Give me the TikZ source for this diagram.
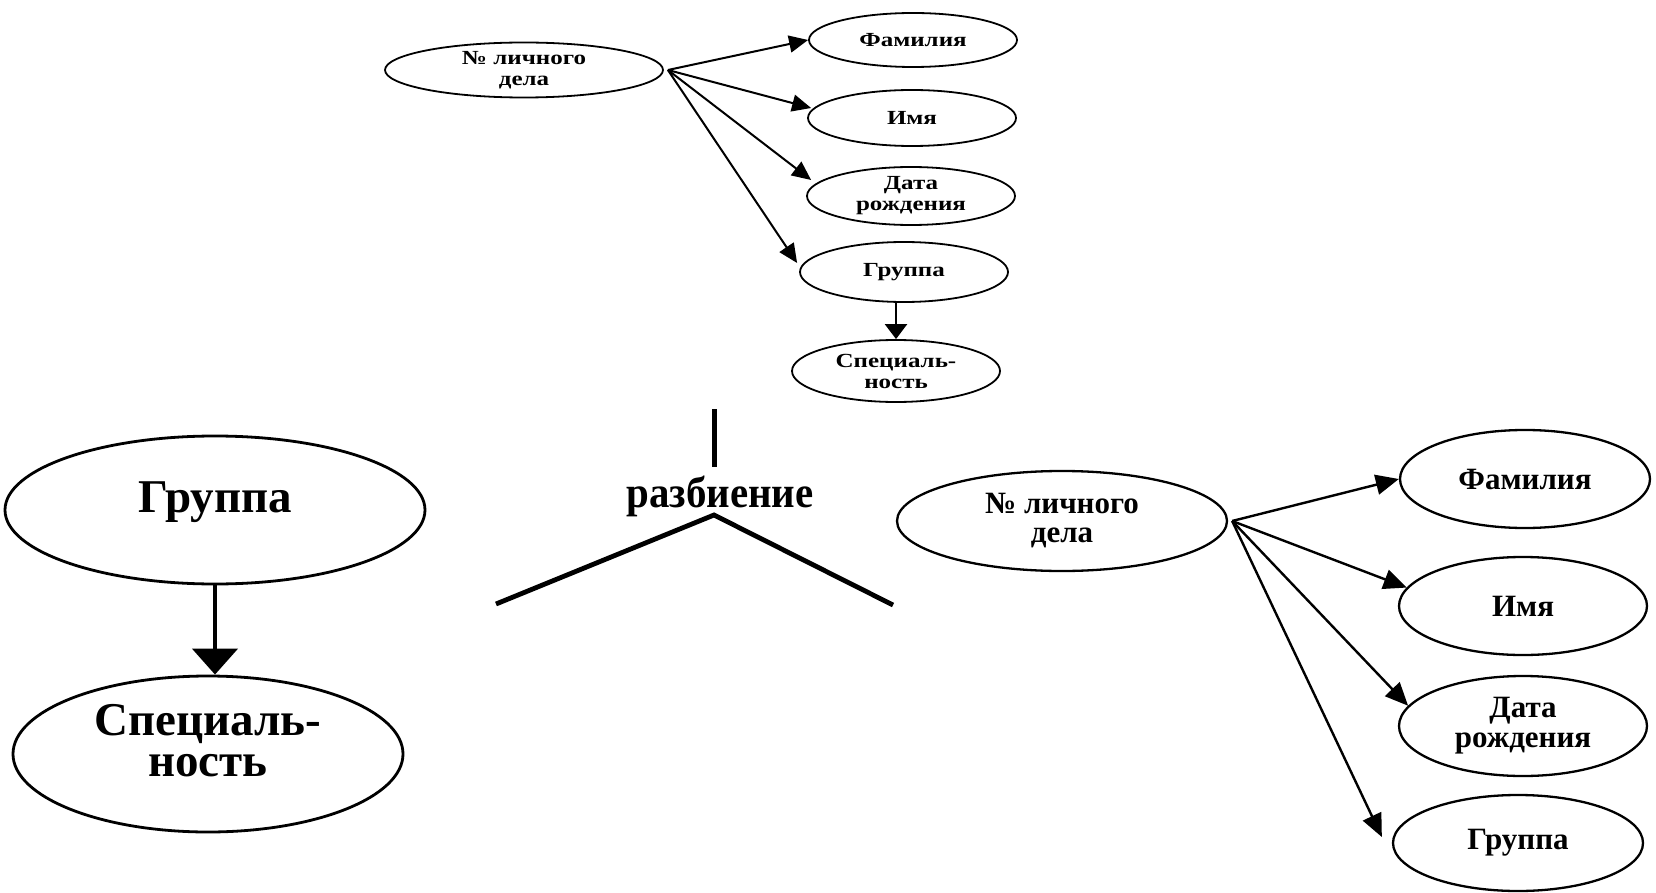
\documentclass[tikz,border=0pt]{standalone}
\usepackage{graphicx}
\usepackage{fontspec}
\setmainfont{Liberation Serif}
\usetikzlibrary{shapes.geometric,arrows.meta}
\newcommand\hs[1]{\scalebox{1.25}[1]{#1}}
\begin{document}
\begin{tikzpicture}[x=1pt,y=-1pt,
  ell/.style={ellipse,draw,inner sep=0pt,align=center},
  topell/.style={ell,line width=1.8pt,font=\fontsize{20}{21}\selectfont\bfseries},
  rightell/.style={ell,line width=2.3pt,font=\fontsize{31}{30}\selectfont\bfseries},
  leftell/.style={ell,line width=2.8pt,font=\fontsize{47}{41}\selectfont\bfseries},
  toparr/.style={line width=2pt,-{Triangle[length=19pt,width=17pt]}},
  toparrv/.style={line width=2.4pt,-{Triangle[length=15pt,width=22pt]}},
  rightarr/.style={line width=2.4pt,-{Triangle[length=23pt,width=20pt]}},
  leftarr/.style={line width=4.7pt,-{Triangle[length=26pt,width=45pt]}},
  thickline/.style={line width=4.8pt,line join=miter}
]
\useasboundingbox[fill=white] (0,0) rectangle (1656,893);

% ---------- top diagram ----------
\node[topell,minimum width=278pt,minimum height=55pt] (tm) at (524,70) {\hs{№ личного}\\\hs{дела}};
\node[topell,minimum width=208pt,minimum height=54pt] (tf) at (913,40) {\hs{Фамилия}};
\node[topell,minimum width=208pt,minimum height=56pt] (ti) at (912,118) {\hs{Имя}};
\node[topell,minimum width=208pt,minimum height=58pt] (td) at (911,196) {\hs{Дата}\\\hs{рождения}};
\node[topell,minimum width=208pt,minimum height=60pt] (tg) at (904,272) {\hs{Группа}};
\node[topell,minimum width=208pt,minimum height=62pt] (ts) at (896,371) {\hs{Специаль-}\\\hs{ность}};
\coordinate (ts0) at ([xshift=4pt]tm.east);
\draw[toparr] (ts0) -- (tf.west);
\draw[toparr] (ts0) -- ([shift={(4,-10)}]ti.west);
\draw[toparr] (ts0) -- ([shift={(5,-16)}]td.west);
\draw[toparr] (ts0) -- ([shift={(-2,-9)}]tg.west);
\draw[toparrv] (tg.south -| ts.north) -- (ts.north);

% ---------- middle: partition ----------
\coordinate (vt) at (714,409);
\coordinate (vb) at (714,467);
\node[anchor=base,inner sep=0pt,font=\fontsize{44}{44}\selectfont\bfseries] (razb) at (720,507) {\scalebox{0.93}[1]{разбиение}};
\coordinate (apex) at (714,515);
\coordinate (chl) at (496,604);
\coordinate (chr) at (893,605);
\draw[line width=5pt] (vt) -- (vb);
\draw[thickline] (chl) -- (apex) -- (chr);

% ---------- left diagram ----------
\node[leftell,minimum width=420pt,minimum height=148pt,text height=4pt,text depth=0pt] (lg) at (215,510) {Группа};
\node[leftell,minimum width=390pt,minimum height=156pt,text height=44pt,text depth=0pt] (ls) at (208,754) {Специаль-\\ность};
\draw[leftarr] (lg.south) -- (lg.south |- ls.north);

% ---------- right diagram ----------
\node[rightell,minimum width=330pt,minimum height=100pt,font=\fontsize{31}{29}\selectfont\bfseries] (rm) at (1062,521) {№ личного\\дела};
\node[rightell,minimum width=250pt,minimum height=98pt] (rf) at (1525,479) {Фамилия};
\node[rightell,minimum width=248pt,minimum height=98pt] (ri) at (1523,606) {Имя};
\node[rightell,minimum width=248pt,minimum height=100pt] (rd) at (1523,726) {Дата\\рождения};
\node[rightell,minimum width=250pt,minimum height=96pt] (rg) at (1518,843) {Группа};
\coordinate (rs0) at ([xshift=4pt]rm.east);
\draw[rightarr] (rs0) -- (rf.west);
\draw[rightarr] (rs0) -- (ri.171);
\draw[rightarr] (rs0) -- (rd.170);
\draw[rightarr] (rs0) -- ([shift={(-10,-6)}]rg.west);
\end{tikzpicture}
\end{document}
